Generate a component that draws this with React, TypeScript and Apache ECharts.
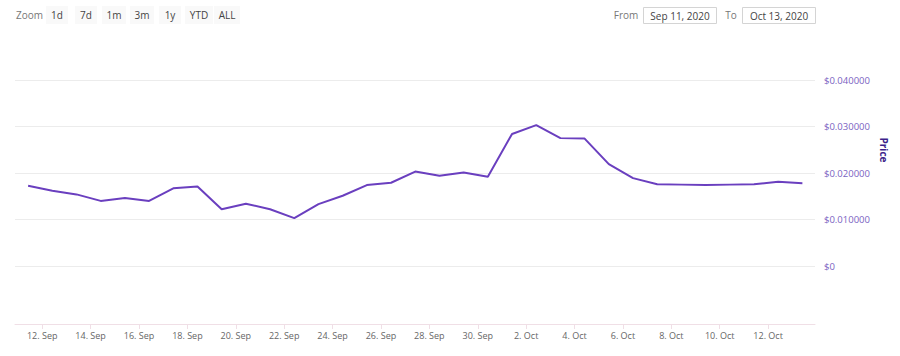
import React, { useEffect, useRef } from "react";
import * as echarts from "echarts";

const dates: string[] = [
  "2020-09-11", "2020-09-12", "2020-09-13", "2020-09-14", "2020-09-15", "2020-09-16",
  "2020-09-17", "2020-09-18", "2020-09-19", "2020-09-20", "2020-09-21", "2020-09-22",
  "2020-09-23", "2020-09-24", "2020-09-25", "2020-09-26", "2020-09-27", "2020-09-28",
  "2020-09-29", "2020-09-30", "2020-10-01", "2020-10-02", "2020-10-03", "2020-10-04",
  "2020-10-05", "2020-10-06", "2020-10-07", "2020-10-08", "2020-10-09", "2020-10-10",
  "2020-10-11", "2020-10-12", "2020-10-13",
];

const prices: number[] = [
  0.01727, 0.0162, 0.0154, 0.0140, 0.0146, 0.0140, 0.0167, 0.0171, 0.0122, 0.0134,
  0.0122, 0.0103, 0.0133, 0.0151, 0.0174, 0.0179, 0.0203, 0.0194, 0.0201, 0.0192,
  0.0284, 0.0303, 0.0275, 0.0274, 0.0219, 0.0189, 0.0176, 0.0175, 0.0174, 0.0175,
  0.0176, 0.0181, 0.0178,
];

const tickDates: string[] = [
  "2020-09-12", "2020-09-14", "2020-09-16", "2020-09-18", "2020-09-20", "2020-09-22",
  "2020-09-24", "2020-09-26", "2020-09-28", "2020-09-30", "2020-10-02", "2020-10-04",
  "2020-10-06", "2020-10-08", "2020-10-10", "2020-10-12",
];

const yTicks: number[] = [0, 0.01, 0.02, 0.03, 0.04];

const zoomButtons: string[] = ["1d", "7d", "1m", "3m", "1y", "YTD", "ALL"];
const fromDate = "Sep 11, 2020";
const toDate = "Oct 13, 2020";

const MONTHS = ["Jan", "Feb", "Mar", "Apr", "May", "Jun", "Jul", "Aug", "Sep", "Oct", "Nov", "Dec"];
const HOUR = 3600 * 1000;
const ts = (s: string) => Date.parse(s + "T00:00:00Z");

export default function App() {
  const ref = useRef<HTMLDivElement>(null);
  useEffect(() => {
    if (!ref.current) return;
    const chart = echarts.init(ref.current, null, { renderer: "svg" });
    const font = "Open Sans";
    const btnCenters = [57, 86, 114, 142, 170, 199, 227];
    const btnWidths = [22, 22, 24, 24, 22, 28, 26];
    const graphics: any[] = [
      {
        type: "text", x: 16, y: 15,
        style: { text: "Zoom", fill: "#777", fontSize: 10, fontFamily: font, verticalAlign: "middle" },
      },
    ];
    zoomButtons.forEach((b, i) => {
      graphics.push({
        type: "rect",
        shape: { x: btnCenters[i] - btnWidths[i] / 2, y: 6, width: btnWidths[i], height: 18 },
        style: { fill: "#f9f9f9" },
      });
      graphics.push({
        type: "text", x: btnCenters[i], y: 15,
        style: { text: b, fill: "#444", fontSize: 10, fontFamily: font, align: "center", verticalAlign: "middle" },
      });
    });
    graphics.push(
      { type: "text", x: 626, y: 15, style: { text: "From", fill: "#777", fontSize: 10, fontFamily: font, align: "center", verticalAlign: "middle" } },
      { type: "rect", shape: { x: 643.5, y: 7.5, width: 73, height: 16 }, style: { fill: "#fff", stroke: "#d4d4d4", lineWidth: 1 } },
      { type: "text", x: 680, y: 15.5, style: { text: fromDate, fill: "#444", fontSize: 10, fontFamily: font, align: "center", verticalAlign: "middle" } },
      { type: "text", x: 731, y: 15, style: { text: "To", fill: "#777", fontSize: 10, fontFamily: font, align: "center", verticalAlign: "middle" } },
      { type: "rect", shape: { x: 742.5, y: 7.5, width: 73, height: 16 }, style: { fill: "#fff", stroke: "#d4d4d4", lineWidth: 1 } },
      { type: "text", x: 779, y: 15.5, style: { text: toDate, fill: "#444", fontSize: 10, fontFamily: font, align: "center", verticalAlign: "middle" } },
      {
        type: "text", x: 884, y: 150, rotation: -Math.PI / 2,
        style: { text: "Price", fill: "#3d1f8a", fontSize: 10, fontWeight: "bold", fontFamily: font, align: "center", verticalAlign: "middle" },
      }
    );

    const tickTs = tickDates.map(ts);
    chart.setOption({
      animation: false,
      backgroundColor: "#fff",
      grid: { left: 15, right: 85, top: 80, bottom: 90, containLabel: false },
      xAxis: {
        type: "value",
        min: ts("2020-09-11") - 3 * HOUR,
        max: ts("2020-10-13") + 22.5 * HOUR,
        offset: 58,
        axisLine: { show: true, onZero: false, lineStyle: { color: "#f0dfe6", width: 1 } },
        axisTick: { show: true, customValues: tickTs, length: 5, lineStyle: { color: "#f0dfe6" } },
        axisLabel: {
          customValues: tickTs,
          color: "#666",
          fontSize: 9,
          fontFamily: font,
          margin: 7,
          formatter: (v: number) => {
            const d = new Date(v);
            return `${d.getUTCDate()}. ${MONTHS[d.getUTCMonth()]}`;
          },
        },
        splitLine: { show: false },
      },
      yAxis: {
        type: "value",
        position: "right",
        min: yTicks[0],
        max: yTicks[yTicks.length - 1],
        interval: 0.01,
        axisLine: { show: false },
        axisTick: { show: false },
        axisLabel: {
          color: "#7a62c2",
          fontSize: 9.5,
          fontFamily: font,
          margin: 9,
          formatter: (v: number) => (v === 0 ? "$0" : "$" + v.toFixed(6)),
        },
        splitLine: { show: true, lineStyle: { color: "#ececec", width: 1 } },
      },
      series: [
        {
          type: "line",
          data: dates.map((d, i) => [ts(d) + 10 * HOUR, prices[i]]),
          symbol: "none",
          lineStyle: { color: "#6a3fbf", width: 2 },
          clip: false,
        },
      ],
      graphic: graphics,
    });
    return () => chart.dispose();
  }, []);
  return (
    <div
      ref={ref}
      style={{ position: "fixed", left: 0, top: 0, width: 900, height: 356, background: "#fff" }}
    />
  );
}
